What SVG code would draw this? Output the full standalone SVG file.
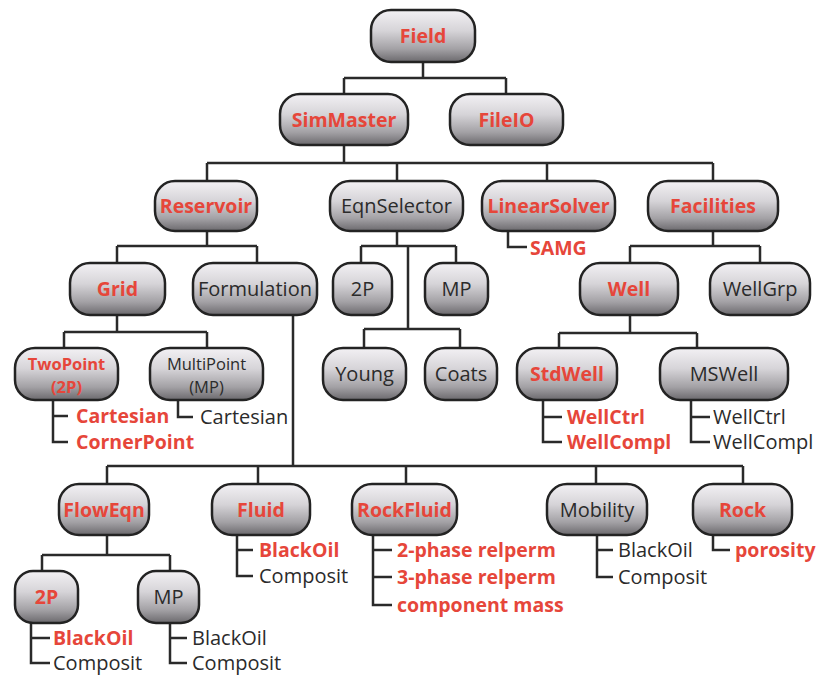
<svg xmlns="http://www.w3.org/2000/svg" width="819" height="679" viewBox="0 0 819 679">
<defs>
<linearGradient id="g" x1="0" y1="0" x2="0" y2="1">
<stop offset="0" stop-color="#f3f1f4"/>
<stop offset="0.4" stop-color="#d6d4d8"/>
<stop offset="0.75" stop-color="#a3a1a5"/>
<stop offset="1" stop-color="#6b696d"/>
</linearGradient>
</defs>
<style>
rect{fill:url(#g);stroke:#232323;stroke-width:2.5}
text{font-family:"Open Sans","Noto Sans",sans-serif;font-size:20px}
.n{text-anchor:middle}
.r{fill:#e6463a;font-weight:bold;font-size:19.5px}
.d{fill:#2b2b2b}
.t{font-size:16.5px}
.c path{fill:none;stroke:#2a2a2a;stroke-width:2.5}
</style>
<g class="c" id="connectors">
<path d="M423 62V78M344 78H506M344 78V94M506 78V94"/>
<path d="M344 145V163M207 163H713M207 163V181M397 163V181M547 163V181M713 163V181"/>
<path d="M207 231V246M117 246H257M117 246V263M257 246V263"/>
<path d="M397 231V246M361 246H456M361 246V263M456 246V263M408 246V329M364 329H460M364 329V348M460 329V348"/>
<path d="M508 231V247H527"/>
<path d="M713 231V246M630 246H760M630 246V263M760 246V263"/>
<path d="M117 315V332M64 332H207M64 332V348M207 332V348"/>
<path d="M53 400V442H68M53 416H68"/>
<path d="M178 400V417H193"/>
<path d="M293 315V466M107 466H743M107 466V484M258 466V484M406 466V484M596 466V484M743 466V484"/>
<path d="M630 315V333M559 333H697M559 333V348M697 333V348"/>
<path d="M543 400V442H562M543 417H562"/>
<path d="M691 400V442H710M691 417H710"/>
<path d="M107 535V555M42 555H170M42 555V571M170 555V571"/>
<path d="M31 623V663H50M31 638H50"/>
<path d="M170 623V663H187M170 638H187"/>
<path d="M237 535V576H253M237 550H253"/>
<path d="M373 535V605H392M373 550H392M373 577H392"/>
<path d="M597 535V577H613M597 550H613"/>
<path d="M713 535V550H730"/>
</g>
<g id="field"><rect x="371" y="10" width="104" height="52" rx="20"/><text class="n r" x="423" y="43">Field</text></g>
<g id="simmaster"><rect x="280" y="94" width="128" height="51" rx="20"/><text class="n r" x="344" y="127">SimMaster</text></g>
<g id="fileio"><rect x="450" y="94" width="113" height="51" rx="20"/><text class="n r" x="506.5" y="127">FileIO</text></g>
<g id="reservoir"><rect x="155" y="181" width="102" height="50" rx="20"/><text class="n r" x="206" y="213">Reservoir</text></g>
<g id="eqnselector"><rect x="330" y="181" width="133" height="50" rx="20"/><text class="n d" x="396.5" y="213">EqnSelector</text></g>
<g id="linearsolver"><rect x="482" y="181" width="133" height="50" rx="20"/><text class="n r" x="548.5" y="213">LinearSolver</text><text class="r" x="530" y="255">SAMG</text></g>
<g id="facilities"><rect x="648" y="181" width="130" height="50" rx="20"/><text class="n r" x="713" y="213">Facilities</text></g>
<g id="grid"><rect x="70" y="263" width="95" height="52" rx="20"/><text class="n r" x="117.5" y="296">Grid</text></g>
<g id="formulation"><rect x="193" y="263" width="124" height="52" rx="20"/><text class="n d" x="255" y="296">Formulation</text></g>
<g id="eq2p"><rect x="333" y="263" width="59" height="52" rx="18"/><text class="n d" x="362.5" y="296">2P</text></g>
<g id="eqmp"><rect x="425" y="263" width="63" height="52" rx="18"/><text class="n d" x="456.5" y="296">MP</text></g>
<g id="well"><rect x="580" y="263" width="98" height="52" rx="20"/><text class="n r" x="629" y="296">Well</text></g>
<g id="wellgrp"><rect x="710" y="263" width="100" height="52" rx="20"/><text class="n d" x="760" y="296">WellGrp</text></g>
<g id="twopoint"><rect x="15" y="348" width="103" height="52" rx="20"/><text class="n r t" x="66.5" y="370">TwoPoint</text><text class="n r t" x="66.5" y="393">(2P)</text><text class="r" x="76" y="423">Cartesian</text><text class="r" x="76" y="449">CornerPoint</text></g>
<g id="multipoint"><rect x="150" y="348" width="113" height="52" rx="20"/><text class="n d t" x="206.5" y="370">MultiPoint</text><text class="n d t" x="206.5" y="393">(MP)</text><text class="d" x="200" y="424">Cartesian</text></g>
<g id="young"><rect x="323" y="348" width="83" height="52" rx="20"/><text class="n d" x="364.5" y="381">Young</text></g>
<g id="coats"><rect x="425" y="348" width="72" height="52" rx="20"/><text class="n d" x="461" y="381">Coats</text></g>
<g id="stdwell"><rect x="517" y="348" width="100" height="52" rx="20"/><text class="n r" x="567" y="381">StdWell</text><text class="r" x="567" y="424">WellCtrl</text><text class="r" x="567" y="449">WellCompl</text></g>
<g id="mswell"><rect x="660" y="348" width="128" height="52" rx="20"/><text class="n d" x="724" y="381">MSWell</text><text class="d" x="713" y="424">WellCtrl</text><text class="d" x="713" y="449">WellCompl</text></g>
<g id="floweqn"><rect x="59" y="484" width="90" height="51" rx="20"/><text class="n r" x="104" y="517">FlowEqn</text></g>
<g id="fluid"><rect x="212" y="484" width="98" height="51" rx="20"/><text class="n r" x="261" y="517">Fluid</text><text class="r" x="259" y="557">BlackOil</text><text class="d" x="259" y="583">Composit</text></g>
<g id="rockfluid"><rect x="352" y="484" width="105" height="51" rx="20"/><text class="n r" x="404.5" y="517">RockFluid</text><text class="r" x="397" y="557">2-phase relperm</text><text class="r" x="397" y="584">3-phase relperm</text><text class="r" x="397" y="612">component mass</text></g>
<g id="mobility"><rect x="547" y="484" width="100" height="51" rx="20"/><text class="n d" x="597" y="517">Mobility</text><text class="d" x="618" y="557">BlackOil</text><text class="d" x="618" y="584">Composit</text></g>
<g id="rock"><rect x="693" y="484" width="99" height="51" rx="20"/><text class="n r" x="742.5" y="517">Rock</text><text class="r" x="735" y="557">porosity</text></g>
<g id="fe2p"><rect x="15" y="571" width="63" height="52" rx="18"/><text class="n r" x="46.5" y="604">2P</text><text class="r" x="53" y="645">BlackOil</text><text class="d" x="53" y="670">Composit</text></g>
<g id="femp"><rect x="138" y="571" width="61" height="52" rx="18"/><text class="n d" x="168.5" y="604">MP</text><text class="d" x="192" y="645">BlackOil</text><text class="d" x="192" y="670">Composit</text></g>
</svg>
